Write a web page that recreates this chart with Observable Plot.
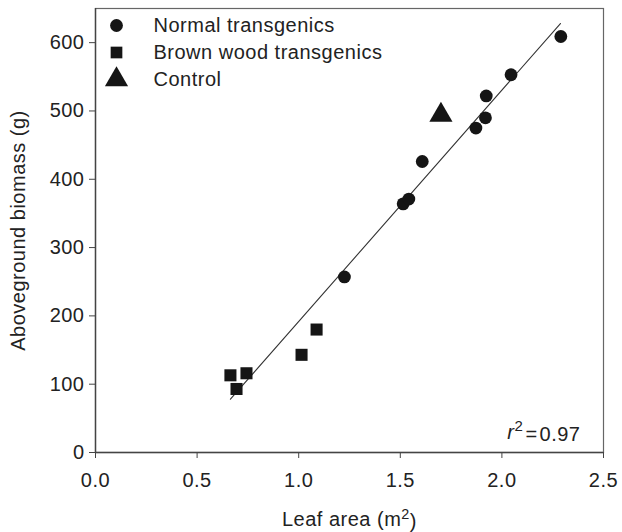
<!DOCTYPE html>
<html>
<head>
<meta charset="utf-8">
<script src="https://cdn.jsdelivr.net/npm/d3@7"></script>
<script src="https://cdn.jsdelivr.net/npm/@observablehq/plot@0.6"></script>
<style>
  html, body { margin: 0; padding: 0; background: #fff; }
  #chart svg { display: block; }
</style>
</head>
<body>
<div id="chart"></div>
<script>
// Normal transgenics (circles)
const normalX = [1.225, 1.514, 1.542, 1.608, 1.872, 1.919, 1.923, 2.045, 2.29];
const normalY = [257, 364, 371, 426, 475, 490, 522, 553, 609];
// Brown wood transgenics (squares)
const brownX = [0.664, 0.694, 0.743, 1.014, 1.088];
const brownY = [113, 93, 116, 143, 180];
// Control (triangle)
const controlX = [1.70];
const controlY = [494];
// Regression line end points
const fitX = [0.664, 2.288];
const fitY = [78, 628];
// Ticks and labels
const xTicks = [0, 0.5, 1.0, 1.5, 2.0, 2.5];
const yTicks = [0, 100, 200, 300, 400, 500, 600];
const legendLabels = ["Normal transgenics", "Brown wood transgenics", "Control"];
const legendSymbols = ["circle", "square", "triangle"];
const xLabel = "Leaf area (m²)";
const yLabel = "Aboveground biomass (g)";
const r2Text = "r² = 0.97";

const toPts = (xs, ys) => xs.map((x, i) => ({x, y: ys[i]}));
const normal = toPts(normalX, normalY);
const brown = toPts(brownX, brownY);
const control = toPts(controlX, controlY);
const fit = toPts(fitX, fitY);

const ink = "#151515";
const legendDy = [17, 44, 71];
const legendR = [6.4, 6.6, 8.6];

const plot = Plot.plot({
  width: 622,
  height: 532,
  marginLeft: 95,
  marginRight: 19,
  marginTop: 8,
  marginBottom: 80,
  style: {fontFamily: "'Liberation Sans', Arial, Helvetica, sans-serif", fontSize: "20px", color: "#222", background: "#fff", letterSpacing: "0.5px"},
  x: {domain: [0, 2.5]},
  y: {domain: [0, 650]},
  marks: [
    Plot.frame({stroke: "#666", strokeWidth: 1.2}),
    Plot.axisX({ticks: xTicks, tickSize: 6, tickPadding: 14, tickFormat: d3.format(".1f"), label: null, stroke: "#444"}),
    Plot.axisY({ticks: yTicks, tickSize: 6, tickPadding: 5, label: null, stroke: "#444"}),
    Plot.ruleY([0], {stroke: "#444", strokeWidth: 1.4}),
    Plot.ruleX([0], {stroke: "#444", strokeWidth: 1.4}),
    Plot.line(fit, {x: "x", y: "y", stroke: "#333", strokeWidth: 1.1}),
    Plot.dot(normal, {x: "x", y: "y", symbol: "circle", r: 6.4, fill: ink, stroke: null}),
    Plot.dot(brown, {x: "x", y: "y", symbol: "square", r: 6.8, fill: ink, stroke: null}),
    Plot.dot(control, {x: "x", y: "y", symbol: "triangle", r: 8.6, fill: ink, stroke: null}),
    ...legendLabels.map((lab, i) => Plot.dot([lab], {
      frameAnchor: "top-left", dx: 21, dy: legendDy[i], symbol: legendSymbols[i], r: legendR[i], fill: ink, stroke: null
    })),
    ...legendLabels.map((lab, i) => Plot.text([lab], {
      frameAnchor: "top-left", dx: 58, dy: legendDy[i], text: d => d, textAnchor: "start", lineAnchor: "middle", fontSize: 20, fill: "#222"
    })),
    Plot.text([r2Text], {frameAnchor: "bottom-right", dx: -23, dy: -14, text: d => d, textAnchor: "end", lineAnchor: "bottom", fontSize: 20, fill: "#222", className: "r2"}),
    Plot.text([xLabel], {frameAnchor: "bottom", dy: 73, text: d => d, textAnchor: "middle", lineAnchor: "bottom", fontSize: 20, fill: "#222", className: "xlab"}),
    Plot.text([yLabel], {frameAnchor: "left", dx: -77, rotate: -90, text: d => d, textAnchor: "middle", lineAnchor: "middle", fontSize: 20, fill: "#222"})
  ]
});

// style superscripts and italic r
d3.select(plot).selectAll("g.r2 text").each(function() {
  const t = d3.select(this);
  t.text(null);
  t.append("tspan").attr("font-style", "italic").text("r");
  t.append("tspan").attr("dy", "-0.5em").attr("font-size", "0.75em").text("2");
  t.append("tspan").attr("dy", "0.5em").attr("dx", "2").text("=");
  t.append("tspan").attr("dx", "2").text("0.97");
});
d3.select(plot).selectAll("g.xlab text").each(function() {
  const t = d3.select(this);
  t.text(null);
  t.append("tspan").text("Leaf area (m");
  t.append("tspan").attr("dy", "-0.45em").attr("font-size", "0.72em").text("2");
  t.append("tspan").attr("dy", "0.45em").text(")");
});

document.getElementById("chart").appendChild(plot);
</script>
</body>
</html>
